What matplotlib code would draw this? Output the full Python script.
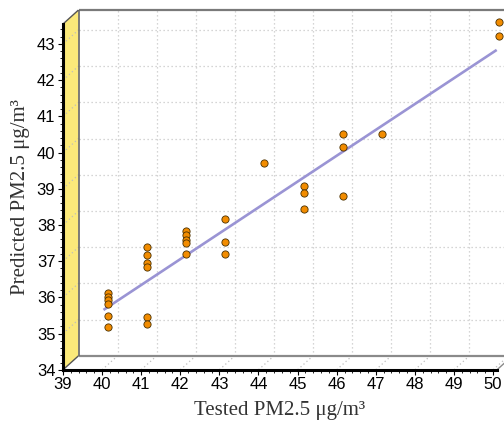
import matplotlib
matplotlib.use("Agg")
import matplotlib.pyplot as plt
from matplotlib.patches import Polygon
from matplotlib.transforms import ScaledTranslation

# tested vs predicted PM2.5 (ug/m3)
tested = [40, 40, 40, 40, 40, 40,
          41, 41, 41, 41, 41, 41,
          42, 42, 42, 42, 42,
          43, 43, 43,
          44,
          45, 45, 45,
          46, 46, 46,
          47,
          50, 50]
predicted = [35.96, 35.87, 35.78, 35.67, 35.33, 35.04,
             37.25, 37.02, 36.80, 36.70, 35.31, 35.11,
             37.68, 37.56, 37.43, 37.34, 37.05,
             38.01, 37.39, 37.05,
             39.57,
             38.93, 38.73, 38.29,
             40.36, 40.00, 38.65,
             40.36,
             43.45, 43.08]

fit_x = [40, 50]
fit_y = [35.61, 42.75]

x_ticks = list(range(39, 51))
y_ticks = list(range(34, 44))

XMIN, XMAX = 39, 50.1
YMIN, YMAX = 34, 43.55

# pixel layout of the pseudo 3d box
FW, FH = 504, 422
L, B, W, H = 63, 52.2, 434, 345.8
DX, DY = 15.5, 14.0

fig = plt.figure(figsize=(FW / 100, FH / 100), dpi=100)
ax = fig.add_axes([L / FW, B / FH, W / FW, H / FH])
ax.set_xlim(XMIN, XMAX)
ax.set_ylim(YMIN, YMAX)
ax.patch.set_visible(False)

# depth offset expressed in data units
dxd = DX * (XMAX - XMIN) / W
dyd = DY * (YMAX - YMIN) / H
bx0, by0 = XMIN + dxd, YMIN + dyd
bx1, by1 = XMAX + dxd, YMAX + dyd

# yellow side wall
wall = Polygon([(XMIN, YMIN), (XMIN, YMAX), (bx0, by1), (bx0, by0)],
               closed=True, facecolor="#fbe97a", edgecolor="none",
               clip_on=False, zorder=0)
ax.add_patch(wall)

# grid on back panel
grid_kw = dict(color="#c8c8c8", lw=0.9, ls=(0, (1, 2.2)), clip_on=False, zorder=1)
for xv in x_ticks[1:]:
    ax.plot([xv + dxd, xv + dxd], [by0, by1], **grid_kw)
for yv in y_ticks[1:]:
    ax.plot([bx0, bx1], [yv + dyd, yv + dyd], **grid_kw)

# diagonal dotted lines on floor and wall
diag_kw = dict(grid_kw, color="#bdbdbd")
for xv in x_ticks[1:]:
    ax.plot([xv, xv + dxd], [YMIN, by0], **diag_kw)
for yv in y_ticks[1:]:
    ax.plot([XMIN, bx0], [yv, yv + dyd], **diag_kw)

# box edges
edge_kw = dict(clip_on=False, zorder=2, solid_capstyle="butt")
ax.plot([bx0, bx1], [by1, by1], color="#7a7a7a", lw=1.6, **edge_kw)
ax.plot([bx0, bx1], [by0, by0], color="#8a8a8a", lw=1.6, **edge_kw)
ax.plot([bx0, bx0], [by0, by1], color="#666666", lw=1.2, **edge_kw)
ax.plot([XMIN, bx0], [YMAX, by1], color="#555555", lw=1.0, **edge_kw)
ax.plot([XMIN, bx0], [YMIN, by0], color="#555555", lw=1.0, **edge_kw)
ax.plot([XMAX, bx1], [YMIN, by0], color="#8a8a8a", lw=1.0, **edge_kw)

# fit line and points sit a little inside the box
line_tr = ax.transData + ScaledTranslation(2.5 / 100, 2.3 / 100, fig.dpi_scale_trans)
pt_tr = ax.transData + ScaledTranslation(6 / 100, 5.5 / 100, fig.dpi_scale_trans)
ax.plot(fit_x, fit_y, color="#9a94d4", lw=1.9, transform=line_tr,
        clip_on=False, zorder=3)
ax.plot(tested, predicted, ls="none", marker="o", ms=5.2, mfc="#f28c00",
        mec="#4a3000", mew=0.6, transform=pt_tr, clip_on=False, zorder=4)

# front axes
for side in ["top", "right"]:
    ax.spines[side].set_visible(False)
for side in ["left", "bottom"]:
    ax.spines[side].set_linewidth(2.2)
    ax.spines[side].set_color("black")
    ax.spines[side].set_zorder(5)

ax.set_xticks(x_ticks)
ax.set_yticks(y_ticks)
ax.set_xticks([x_ticks[0] + i * 0.2 for i in range(56)], minor=True)
ax.set_yticks([y_ticks[0] + i * 0.2 for i in range(48)], minor=True)
ax.tick_params(which="major", direction="out", length=3.5, width=0.8,
               labelsize=12, pad=2)
ax.tick_params(which="minor", direction="out", length=2.5, width=0.6)
for lab in ax.get_xticklabels() + ax.get_yticklabels():
    lab.set_family("Liberation Sans")

ax.set_xlabel("Tested PM2.5 μg/m³", family="Liberation Serif",
              fontsize=15, color="#333333", labelpad=6)
ax.set_ylabel("Predicted PM2.5 μg/m³", family="Liberation Serif",
              fontsize=15, color="#333333", labelpad=5)

fig.savefig("out.png", dpi=100)
